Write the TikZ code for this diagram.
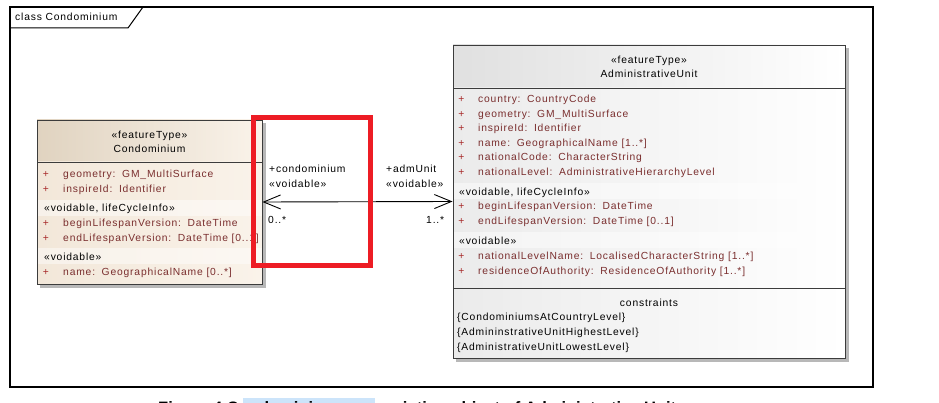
\documentclass[tikz,border=0pt]{standalone}
\usepackage{fontspec}
\setmainfont{Liberation Sans}
\newfontfamily\umlfont[LetterSpace=8]{Liberation Sans}
\usetikzlibrary{arrows.meta}
\definecolor{attr}{HTML}{7A2E2E}
\definecolor{plusred}{HTML}{A82A2A}
\definecolor{boxline}{HTML}{3C3C3C}
\definecolor{beigeA}{HTML}{E0D3C0}
\definecolor{beigeB}{HTML}{FAF3EA}
\definecolor{beigeC}{HTML}{F2E7D9}
\definecolor{greyA}{HTML}{E0E0E0}
\definecolor{greyB}{HTML}{FFFFFF}
\definecolor{greyC}{HTML}{EBEBEB}
\definecolor{shadowc}{HTML}{B8B8B8}
\definecolor{hlred}{HTML}{ED1C24}
\definecolor{hlblue}{HTML}{CCE4FA}
\begin{document}
\begin{tikzpicture}[x=1pt,y=-1pt,
  font=\umlfont\fontsize{10.3}{12}\selectfont,
  txt/.style={anchor=base west, inner sep=0pt},
  ctxt/.style={anchor=base, inner sep=0pt},
  attrtxt/.style={txt, text=attr},
  plussign/.style={anchor=base, inner sep=0pt, text=plusred},
  classbox/.style={draw=boxline, line width=0.9pt, inner sep=0pt},
  divider/.style={draw=boxline, line width=0.8pt},
  band/.style={fill=white, fill opacity=0.45},
  assoc/.style={draw=black, line width=0.9pt, {Straight Barb[length=17pt,width=14pt]}-{Straight Barb[length=17pt,width=14pt]}},
  redbox/.style={draw=hlred, line width=5pt}]
\useasboundingbox (0,0) rectangle (939,403);
\fill[white] (0,0) rectangle (939,403);

% diagram frame
\node[draw=black, line width=1.3pt, minimum width=863pt, minimum height=380pt, inner sep=0pt] (frame) at (441.5,197) {};
\draw[line width=1pt] (10,28) -- (128,28) -- (143,7);
\node[txt] (frametitle) at (15,20.5) {class Condominium};

% ---------- Condominium ----------
\fill[shadowc] (40,123) rectangle (265.5,287.5);
\shade[left color=beigeA, right color=beigeB] (37,120) rectangle (262,162);
\shade[left color=beigeC, right color=beigeB] (37,162) rectangle (262,284);
\fill[band] (37,200) rectangle (262,216);
\fill[band] (37,248) rectangle (262,264);
\node[classbox, minimum width=225pt, minimum height=164pt] (condo) at (149.5,202) {};
\draw[divider] (37,162) -- (262,162);
\node[ctxt] (c-st) at (149.5,139) {«featureType»};
\node[ctxt] (c-nm) at (149.5,153) {Condominium};
\node[plussign] (c-p1) at (46,178) {+};
\node[attrtxt] (c-a1) at (63,178) {geometry:\, GM\_MultiSurface};
\node[plussign] (c-p2) at (46,193) {+};
\node[attrtxt] (c-a2) at (63,193) {inspireId:\, Identifier};
\node[txt] (c-s1) at (44,212) {«voidable, lifeCycleInfo»};
\node[plussign] (c-p3) at (46,227) {+};
\node[attrtxt] (c-a3) at (63,227) {beginLifespanVersion:\, DateTime};
\node[plussign] (c-p4) at (46,242) {+};
\node[attrtxt] (c-a4) at (63,242) {endLifespanVersion:\, DateTime [0..1]};
\node[txt] (c-s2) at (44,261) {«voidable»};
\node[plussign] (c-p5) at (46,276) {+};
\node[attrtxt] (c-a5) at (63,276) {name:\, GeographicalName [0..*]};

% ---------- AdministrativeUnit ----------
\fill[shadowc] (456,48) rectangle (848.5,361.5);
\shade[left color=greyA, right color=greyB] (453,45) rectangle (845,88);
\shade[left color=greyC, right color=greyB] (453,88) rectangle (845,358);
\fill[band] (453,183) rectangle (845,199);
\fill[band] (453,232) rectangle (845,248);
\node[classbox, minimum width=392pt, minimum height=313pt] (au) at (649,201.5) {};
\draw[divider] (453,88) -- (845,88);
\draw[divider] (453,288) -- (845,288);
\node[ctxt] (a-st) at (649,63.5) {«featureType»};
\node[ctxt] (a-nm) at (649,78) {AdministrativeUnit};
\node[plussign] (a-p1) at (461.5,103) {+};
\node[attrtxt] (a-a1) at (478,103) {country:\, CountryCode};
\node[plussign] (a-p2) at (461.5,117.5) {+};
\node[attrtxt] (a-a2) at (478,117.5) {geometry:\, GM\_MultiSurface};
\node[plussign] (a-p3) at (461.5,132) {+};
\node[attrtxt] (a-a3) at (478,132) {inspireId:\, Identifier};
\node[plussign] (a-p4) at (461.5,146.5) {+};
\node[attrtxt] (a-a4) at (478,146.5) {name:\, GeographicalName [1..*]};
\node[plussign] (a-p5) at (461.5,161) {+};
\node[attrtxt] (a-a5) at (478,161) {nationalCode:\, CharacterString};
\node[plussign] (a-p6) at (461.5,175.5) {+};
\node[attrtxt] (a-a6) at (478,175.5) {nationalLevel:\, AdministrativeHierarchyLevel};
\node[txt] (a-s1) at (459,195.5) {«voidable, lifeCycleInfo»};
\node[plussign] (a-p7) at (461.5,210) {+};
\node[attrtxt] (a-a7) at (478,210) {beginLifespanVersion:\, DateTime};
\node[plussign] (a-p8) at (461.5,225) {+};
\node[attrtxt] (a-a8) at (478,225) {endLifespanVersion:\, DateTime [0..1]};
\node[txt] (a-s2) at (459,244.5) {«voidable»};
\node[plussign] (a-p9) at (461.5,259) {+};
\node[attrtxt] (a-a9) at (478,259) {nationalLevelName:\, LocalisedCharacterString [1..*]};
\node[plussign] (a-p10) at (461.5,274) {+};
\node[attrtxt] (a-a10) at (478,274) {residenceOfAuthority:\, ResidenceOfAuthority [1..*]};
\node[ctxt] (a-ch) at (649,306) {constraints};
\node[txt] (a-c1) at (457,320.5) {\{CondominiumsAtCountryLevel\}};
\node[txt] (a-c2) at (457,335.5) {\{AdmininstrativeUnitHighestLevel\}};
\node[txt] (a-c3) at (457,350.5) {\{AdministrativeUnitLowestLevel\}};

% ---------- association ----------
\draw[assoc] (condo.east) -- (au.west);
\node[txt] (r1) at (269,173) {+condominium};
\node[txt] (r1s) at (269,188) {«voidable»};
\node[txt] (r2) at (386,173) {+admUnit};
\node[txt] (r2s) at (386,188) {«voidable»};
\node[txt] (m1) at (268,224) {0..*};
\node[txt] (m2) at (426,224) {1..*};

% ---------- highlight ----------
\draw[redbox] (253.5,117.5) rectangle (370.5,265.5);

% ---------- caption (cut by the page edge, as in the reference) ----------
\fill[hlblue] (243,398) rectangle (375,403);
\node[anchor=base west, inner sep=0pt, font=\bfseries\fontsize{16.5}{18}\selectfont] (caption) at (158,413.5) {Figure 4 Condominium -- association object of Administrative Unit};
\end{tikzpicture}
\end{document}
